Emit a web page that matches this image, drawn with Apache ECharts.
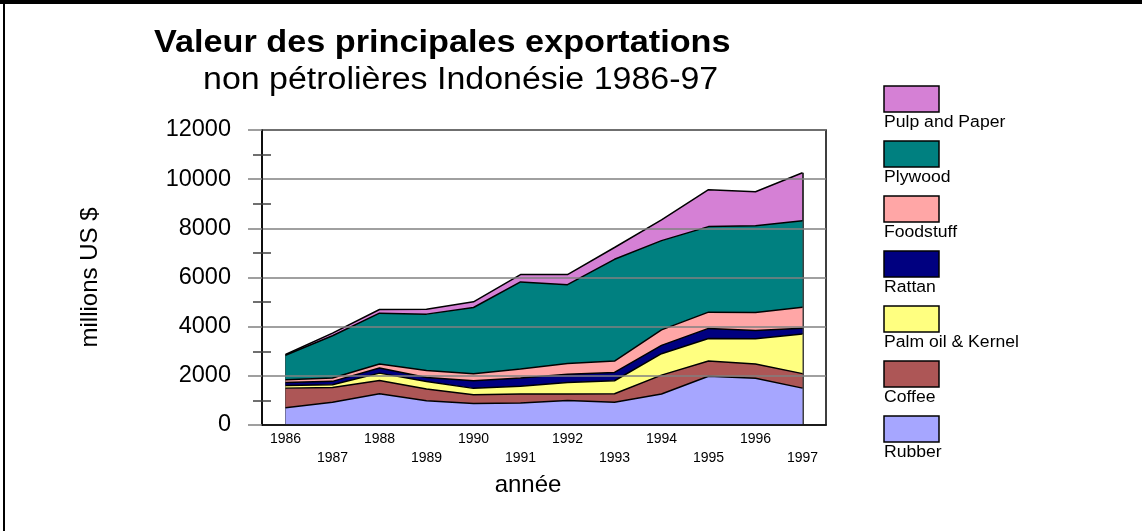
<!DOCTYPE html>
<html>
<head>
<meta charset="utf-8">
<script src="https://cdn.jsdelivr.net/npm/echarts@6/dist/echarts.min.js"></script>
<style>
html,body{margin:0;padding:0;background:#fff;}
#chart{width:1142px;height:531px;}
</style>
</head>
<body>
<div id="chart"></div>
<script>
var years = ['1986','1987','1988','1989','1990','1991','1992','1993','1994','1995','1996','1997'];
var seriesNames = ['Rubber','Coffee','Palm oil & Kernel','Rattan','Foodstuff','Plywood','Pulp and Paper'];
var rubber    = [700, 930, 1270, 990, 870, 890, 1000, 930, 1260, 1980, 1900, 1500];
var coffee    = [800, 600, 540, 470, 360, 370, 260, 340, 770, 620, 580, 590];
var palmOil   = [110, 110, 300, 310, 260, 320, 470, 530, 870, 920, 1030, 1610];
var rattan    = [120, 135, 205, 165, 310, 330, 330, 340, 340, 410, 335, 240];
var foodstuff = [110, 135, 165, 285, 285, 365, 445, 460, 630, 660, 735, 850];
var plywood   = [1000, 1720, 2070, 2290, 2695, 3545, 3205, 4140, 3630, 3480, 3530, 3520];
var pulp      = [30, 110, 150, 200, 230, 300, 410, 480, 840, 1500, 1380, 1950];
var yTicks = [0, 2000, 4000, 6000, 8000, 10000, 12000];
var colors = ['#a6a6ff','#ad5656','#ffff80','#000080','#ffa6a6','#008080','#d580d5'];

var values = [rubber, coffee, palmOil, rattan, foodstuff, plywood, pulp];
var FONT = "'Liberation Sans', Arial, sans-serif";

var totals = years.map(function(_, i){
  return values.reduce(function(s, arr){ return s + arr[i]; }, 0);
});
var lastIdx = years.length - 1;

var series = seriesNames.map(function(name, k){
  var s = {
    name: name,
    type: 'line',
    stack: 'total',
    data: values[k],
    symbol: 'none',
    z: 10 - k,
    lineStyle: {color: '#000', width: 1.5},
    areaStyle: {color: colors[k], opacity: 1},
    itemStyle: {color: colors[k]},
    emphasis: {disabled: true},
    animation: false
  };
  if (k === 0) {
    s.markLine = {
      silent: true,
      symbol: 'none',
      label: {show: false},
      lineStyle: {color: '#000', width: 1.5, type: 'solid'},
      data: [
        [{coord: [0, 0]}, {coord: [0, totals[0]]}],
        [{coord: [lastIdx, 0]}, {coord: [lastIdx, totals[lastIdx]]}]
      ],
      animation: false
    };
  }
  return s;
});

// legend drawn from names/colors, top series first
var legendEls = [];
for (var j = 0; j < seriesNames.length; j++) {
  var k = seriesNames.length - 1 - j;
  var boxTop = 86 + 55 * j;
  legendEls.push({
    type: 'rect', x: 884, y: boxTop,
    shape: {x: 0, y: 0, width: 55, height: 26},
    style: {fill: colors[k], stroke: '#000', lineWidth: 1.5}
  });
  legendEls.push({
    type: 'text', x: 884, y: boxTop + 36.5, scaleX: 1.1,
    style: {text: seriesNames[k], x: 0, y: 0, fill: '#000', font: '16px ' + FONT,
            textAlign: 'left', textVerticalAlign: 'middle'}
  });
}

var chart = echarts.init(document.getElementById('chart'), null, {renderer: 'canvas'});
chart.setOption({
  backgroundColor: '#fff',
  animation: false,
  grid: {left: 262, right: 316, top: 130, bottom: 106, show: true, borderColor: '#000', borderWidth: 1.5, backgroundColor: 'transparent'},
  xAxis: {
    type: 'category',
    data: years,
    boundaryGap: true,
    z: 12,
    name: 'année',
    nameLocation: 'middle',
    nameGap: 47,
    nameTextStyle: {fontFamily: FONT, fontSize: 24, color: '#000', padding: [0, 32, 0, 0]},
    axisLine: {lineStyle: {color: '#000', width: 1.5}},
    axisTick: {alignWithLabel: true, length: 5, lineStyle: {color: '#808080', width: 1.5}},
    axisLabel: {
      fontFamily: FONT, fontSize: 14, color: '#000', margin: 5, lineHeight: 19, interval: 0,
      formatter: function(v, i){ return i % 2 ? '\n' + v : v; }
    },
    splitLine: {show: false}
  },
  yAxis: [{
    type: 'value',
    min: 0, max: 12000, interval: 2000,
    z: 12,
    name: 'millions US $',
    nameLocation: 'middle',
    nameGap: 160,
    nameRotate: 90,
    nameTextStyle: {fontFamily: FONT, fontSize: 24, color: '#000'},
    axisLine: {show: true, lineStyle: {color: '#000', width: 1.5}},
    axisTick: {show: true, length: 14, lineStyle: {color: '#808080', width: 1.5}},
    minorTick: {show: true, splitNumber: 2, length: 9, lineStyle: {color: '#404040', width: 1.5}},
    axisLabel: {
      fontFamily: FONT, fontSize: 23.5, color: '#000', margin: 31,
      formatter: function(v){ return yTicks.indexOf(v) >= 0 ? String(v) : ''; }
    },
    splitLine: {show: true, lineStyle: {color: '#808080', width: 1.5}}
  }, {
    type: 'value',
    position: 'left',
    min: 0, max: 12000, interval: 2000,
    z: 12,
    axisLine: {show: false},
    axisTick: {show: false, inside: true},
    minorTick: {show: true, splitNumber: 2, length: 9, lineStyle: {color: '#404040', width: 1.5}},
    axisLabel: {show: false},
    splitLine: {show: false}
  }],
  series: series,
  graphic: [
    {type: 'rect', shape: {x: 0, y: 0, width: 1142, height: 4}, style: {fill: '#000'}, z: 100},
    {type: 'rect', shape: {x: 3, y: 0, width: 2, height: 531}, style: {fill: '#000'}, z: 100},
    {type: 'text', x: 154, y: 43, scaleX: 1.07, z: 100,
     style: {text: 'Valeur des principales exportations', x: 0, y: 0, fill: '#000',
             font: 'bold 32px ' + FONT, textAlign: 'left', textVerticalAlign: 'middle'}},
    {type: 'text', x: 203, y: 80, scaleX: 1.095, z: 100,
     style: {text: 'non pétrolières Indonésie 1986-97', x: 0, y: 0, fill: '#000',
             font: '31px ' + FONT, textAlign: 'left', textVerticalAlign: 'middle'}}
  ].concat(legendEls)
});
</script>
</body>
</html>
